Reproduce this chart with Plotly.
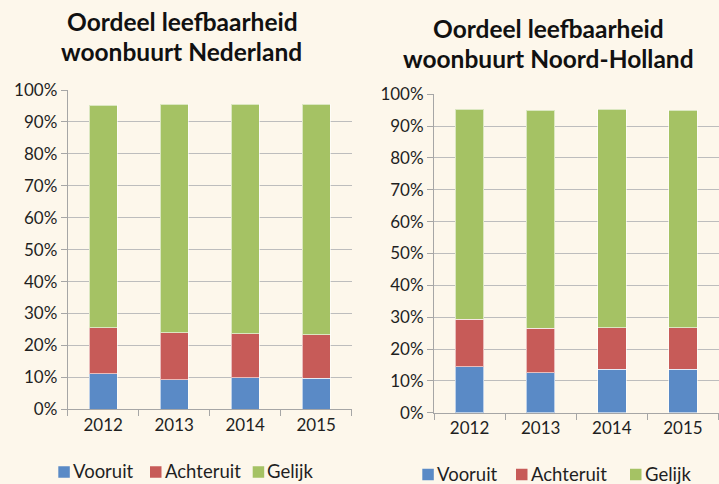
import plotly.graph_objects as go

# Survey years and answer categories
years = ["2012", "2013", "2014", "2015"]
series = ["Vooruit", "Achteruit", "Gelijk"]
colors = ["#5A8AC6", "#C75B58", "#A5C264"]

# Nederland (percent of respondents)
nl_vooruit = [11.2, 9.3, 9.9, 9.7]
nl_achteruit = [14.4, 14.6, 13.8, 13.6]
nl_gelijk = [69.7, 71.7, 71.9, 72.3]

# Noord-Holland (percent of respondents)
nh_vooruit = [14.4, 12.5, 13.7, 13.7]
nh_achteruit = [15.0, 14.0, 13.0, 13.0]
nh_gelijk = [65.9, 68.5, 68.6, 68.3]

W, H = 719, 484
BG = "#FDF7EB"
FONT = "Lato"
TXT = "#1F1F1F"
GRID = "#BDBDBD"

fig = go.Figure()

panels = [
    ("x", "y", [nl_vooruit, nl_achteruit, nl_gelijk]),
    ("x2", "y2", [nh_vooruit, nh_achteruit, nh_gelijk]),
]
for xa, ya, vals in panels:
    for name, col, v in zip(series, colors, vals):
        fig.add_trace(go.Bar(
            x=years, y=v, name=name, xaxis=xa, yaxis=ya, showlegend=False,
            marker=dict(color=col, line=dict(color="rgba(255,255,255,0.6)", width=1)),
            hoverinfo="skip",
        ))


def px_x(p):
    return p / W


def px_y(p):
    return 1 - p / H


axis_common = dict(
    showline=True, linecolor="#A6A6A6", linewidth=1,
    ticks="outside", tickcolor="#A6A6A6", ticklen=6,
    tickfont=dict(family=FONT, size=17, color=TXT),
)
yaxis_common = dict(
    axis_common, range=[0, 100], dtick=10, ticksuffix="%",
    showgrid=True, gridcolor=GRID, gridwidth=1, zeroline=False, fixedrange=True,
)
xaxis_common = dict(axis_common, type="category", tickson="boundaries", showgrid=False)

fig.update_layout(
    width=W, height=H,
    margin=dict(l=0, r=0, t=0, b=0, autoexpand=False),
    paper_bgcolor=BG, plot_bgcolor=BG,
    barmode="stack", bargap=0.6,
    showlegend=False,
    xaxis=dict(xaxis_common, domain=[px_x(67.7), px_x(351.7)], anchor="y"),
    yaxis=dict(yaxis_common, domain=[px_y(409.3), px_y(90)], anchor="x"),
    xaxis2=dict(xaxis_common, domain=[px_x(434), px_x(718.5)], anchor="y2"),
    yaxis2=dict(yaxis_common, domain=[px_y(412.7), px_y(94.3)], anchor="x2"),
)

# Chart titles
titles = [
    ("Oordeel leefbaarheid", 182.5, 22),
    ("woonbuurt Nederland", 182, 52),
    ("Oordeel leefbaarheid", 548, 28),
    ("woonbuurt Noord-Holland", 548, 58),
]
for text, cx, cy in titles:
    fig.add_annotation(
        text="<b>%s</b>" % text, xref="paper", yref="paper",
        x=px_x(cx), y=px_y(cy), xanchor="center", yanchor="middle",
        showarrow=False, font=dict(family=FONT, size=24.5, color="#111111"),
    )

# Legends below each chart: colour key square followed by the series name
legend_rows = [
    (471, [58.3, 150, 252.7]),
    (473.5, [422.3, 516, 630]),
]
SQ = 11.5
for cy, xs in legend_rows:
    for name, col, x0 in zip(series, colors, xs):
        fig.add_shape(
            type="rect", xref="paper", yref="paper",
            x0=px_x(x0), x1=px_x(x0 + SQ), y0=px_y(cy + 1 + SQ / 2), y1=px_y(cy + 1 - SQ / 2),
            fillcolor=col, line=dict(width=0),
        )
        fig.add_annotation(
            text=name, xref="paper", yref="paper",
            x=px_x(x0 + SQ + 2), y=px_y(cy), xanchor="left", yanchor="middle",
            showarrow=False, borderpad=0,
            font=dict(family=FONT, size=18.5, color=TXT),
        )

fig.write_html("out.html")
